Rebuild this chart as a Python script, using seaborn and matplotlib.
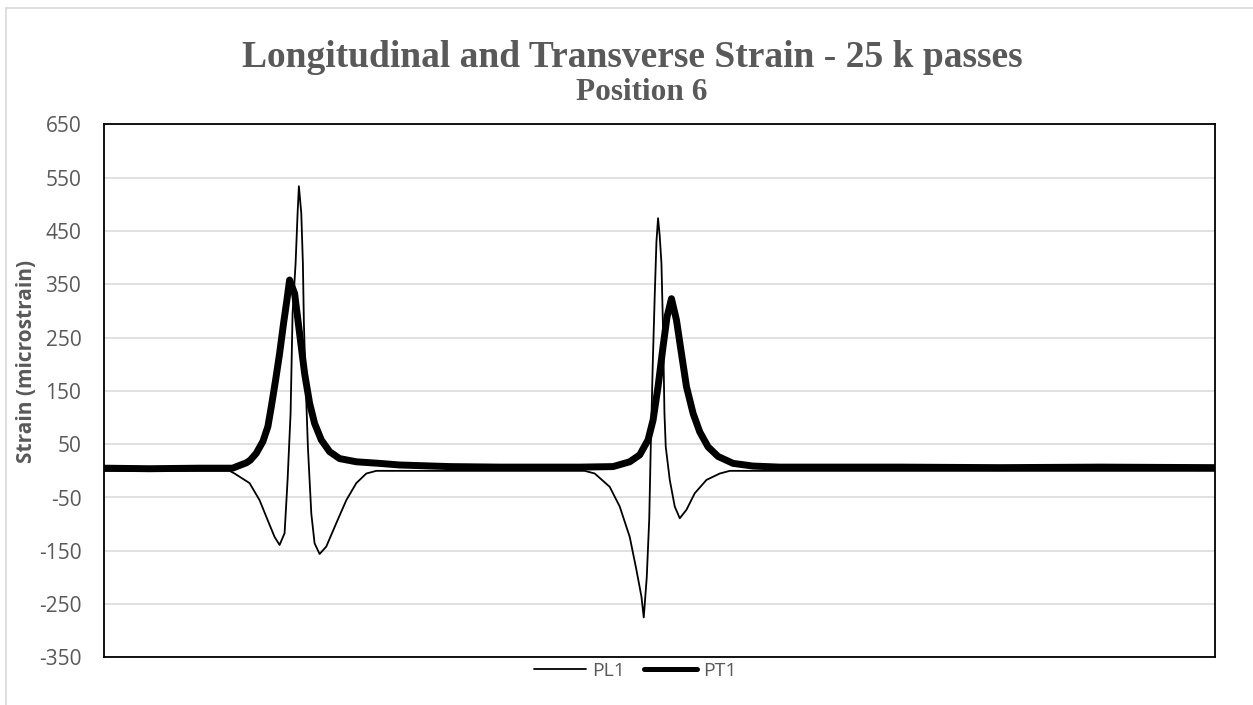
"""
Longitudinal and transverse strain trace, position 6 (25 k passes)
"""

import pandas as pd
import matplotlib.pyplot as plt
import seaborn as sns
from matplotlib.lines import Line2D

# sample index along the record (no x ticks in the original)
pl1_x = [0, 126, 131, 146, 156, 164, 171, 176, 181, 184, 187, 189, 192, 194, 195.3,
         197.7, 199.3, 200.3, 202, 204.3, 207.7, 211, 216, 222.7, 232.7, 242.7, 252.7,
         262.7, 272.7, 481, 491, 506, 516, 526, 532.7, 537.7, 540, 543, 545.5, 547,
         549, 551, 552.7, 554.3, 556, 557.7, 559.3, 560.7, 562, 566, 571, 576, 582.7,
         591, 602.7, 616, 626, 636, 1111]
pl1_y = [0, 0, -5, -23, -55, -92, -124, -139, -117, -17, 108, 296, 389, 483, 534,
         483, 389, 277, 170, 45, -80, -136, -156, -142, -98, -55, -23,
         -5, 0, 0, -5, -30, -67, -124, -186, -236, -275, -200, -90, 45,
         200, 330, 430, 474, 440, 389, 264, 108, 45, -17, -67, -89, -73,
         -42, -17, -5, 0, 0, 0]

pt1_x = [0, 46, 96, 129, 133, 142.7, 146.7, 152.7, 159.3, 164.3, 167.7, 172, 176, 180,
         183.3, 186, 191, 196, 201, 206, 211, 217.7, 226, 236, 252.7, 276, 296, 346,
         396, 476, 509.3, 526, 536, 544.3, 549.3, 554.3, 559.3, 563.3, 567.7, 572.7,
         577.7, 582.7, 589.3, 596, 604.3, 614.3, 629.3, 649.3, 676, 796, 896, 996, 1111]
pt1_y = [5, 4, 5, 5, 8, 15, 20, 33, 55, 83, 120, 170, 220, 277,
         320, 358, 333, 258, 183, 127, 89, 58, 36, 23, 17, 14, 11, 8,
         7, 7, 8, 17, 30, 58, 95, 158, 233, 289, 323, 283,
         220, 158, 108, 73, 45, 27, 14, 9, 7, 7, 6, 7, 6]

y_ticks = list(range(-350, 651, 100))

grey = '#595959'

sns.set_theme(style='white')
plt.rcParams['font.family'] = ['Open Sans', 'DejaVu Sans']

fig = plt.figure(figsize=(12.53, 7.05), dpi=100)
ax = fig.add_axes([103.5 / 1253, (705 - 657.4) / 705, (1215 - 103.5) / 1253, 533 / 705])

# gridlines behind the traces
for v in y_ticks:
    ax.axhline(v, color='#d9d9d9', lw=1.1, zorder=0)

df_pl1 = pd.DataFrame({'sample': pl1_x, 'strain': pl1_y})
df_pt1 = pd.DataFrame({'sample': pt1_x, 'strain': pt1_y})

sns.lineplot(data=df_pl1, x='sample', y='strain', ax=ax, color='black', lw=1.3,
             legend=False, zorder=2)
sns.lineplot(data=df_pt1, x='sample', y='strain', ax=ax, color='black', lw=5.0,
             legend=False, zorder=3)

ax.set_xlim(0, 1111)
ax.set_ylim(-350, 650)
ax.set_yticks(y_ticks)
ax.set_yticklabels([str(v) for v in y_ticks], color=grey, fontsize=15)
ax.set_xticks([])
ax.set_xlabel('')
ax.set_ylabel('')
ax.tick_params(axis='y', length=0, pad=16)
for s in ax.spines.values():
    s.set_color('black')
    s.set_linewidth(1.3)

fig.text(27 / 1253, (705 - 361) / 705, 'Strain (microstrain)',
         rotation=90, ha='center', va='center', color=grey, fontsize=15,
         fontweight='bold')

# two-line title, placed line by line to match the tight spacing
fig.text(632 / 1253, (705 - 66.7) / 705, 'Longitudinal and Transverse Strain - 25 k passes',
         ha='center', va='baseline', fontsize=27, fontweight='bold', color=grey,
         family='Liberation Serif')
fig.text(642 / 1253, (705 - 100) / 705, 'Position 6',
         ha='center', va='baseline', fontsize=22.5, fontweight='bold', color=grey,
         family='Liberation Serif')

handles = [Line2D([], [], color='black', lw=1.3), Line2D([], [], color='black', lw=3.6)]
fig.legend(handles, ['PL1', 'PT1'], loc='center', bbox_to_anchor=(635 / 1253, 0.048),
           ncol=2, frameon=False, fontsize=14, handlelength=2.7, columnspacing=1.0,
           handletextpad=0.3, labelcolor=grey)

# light chart-area border (top and left)
fig.add_artist(Line2D([6 / 1253, 6 / 1253], [0, 697 / 705], color='#d9d9d9', lw=1.2,
                      transform=fig.transFigure))
fig.add_artist(Line2D([6 / 1253, 1], [697 / 705, 697 / 705], color='#d9d9d9', lw=1.2,
                      transform=fig.transFigure))

fig.savefig('out.png', dpi=100)
